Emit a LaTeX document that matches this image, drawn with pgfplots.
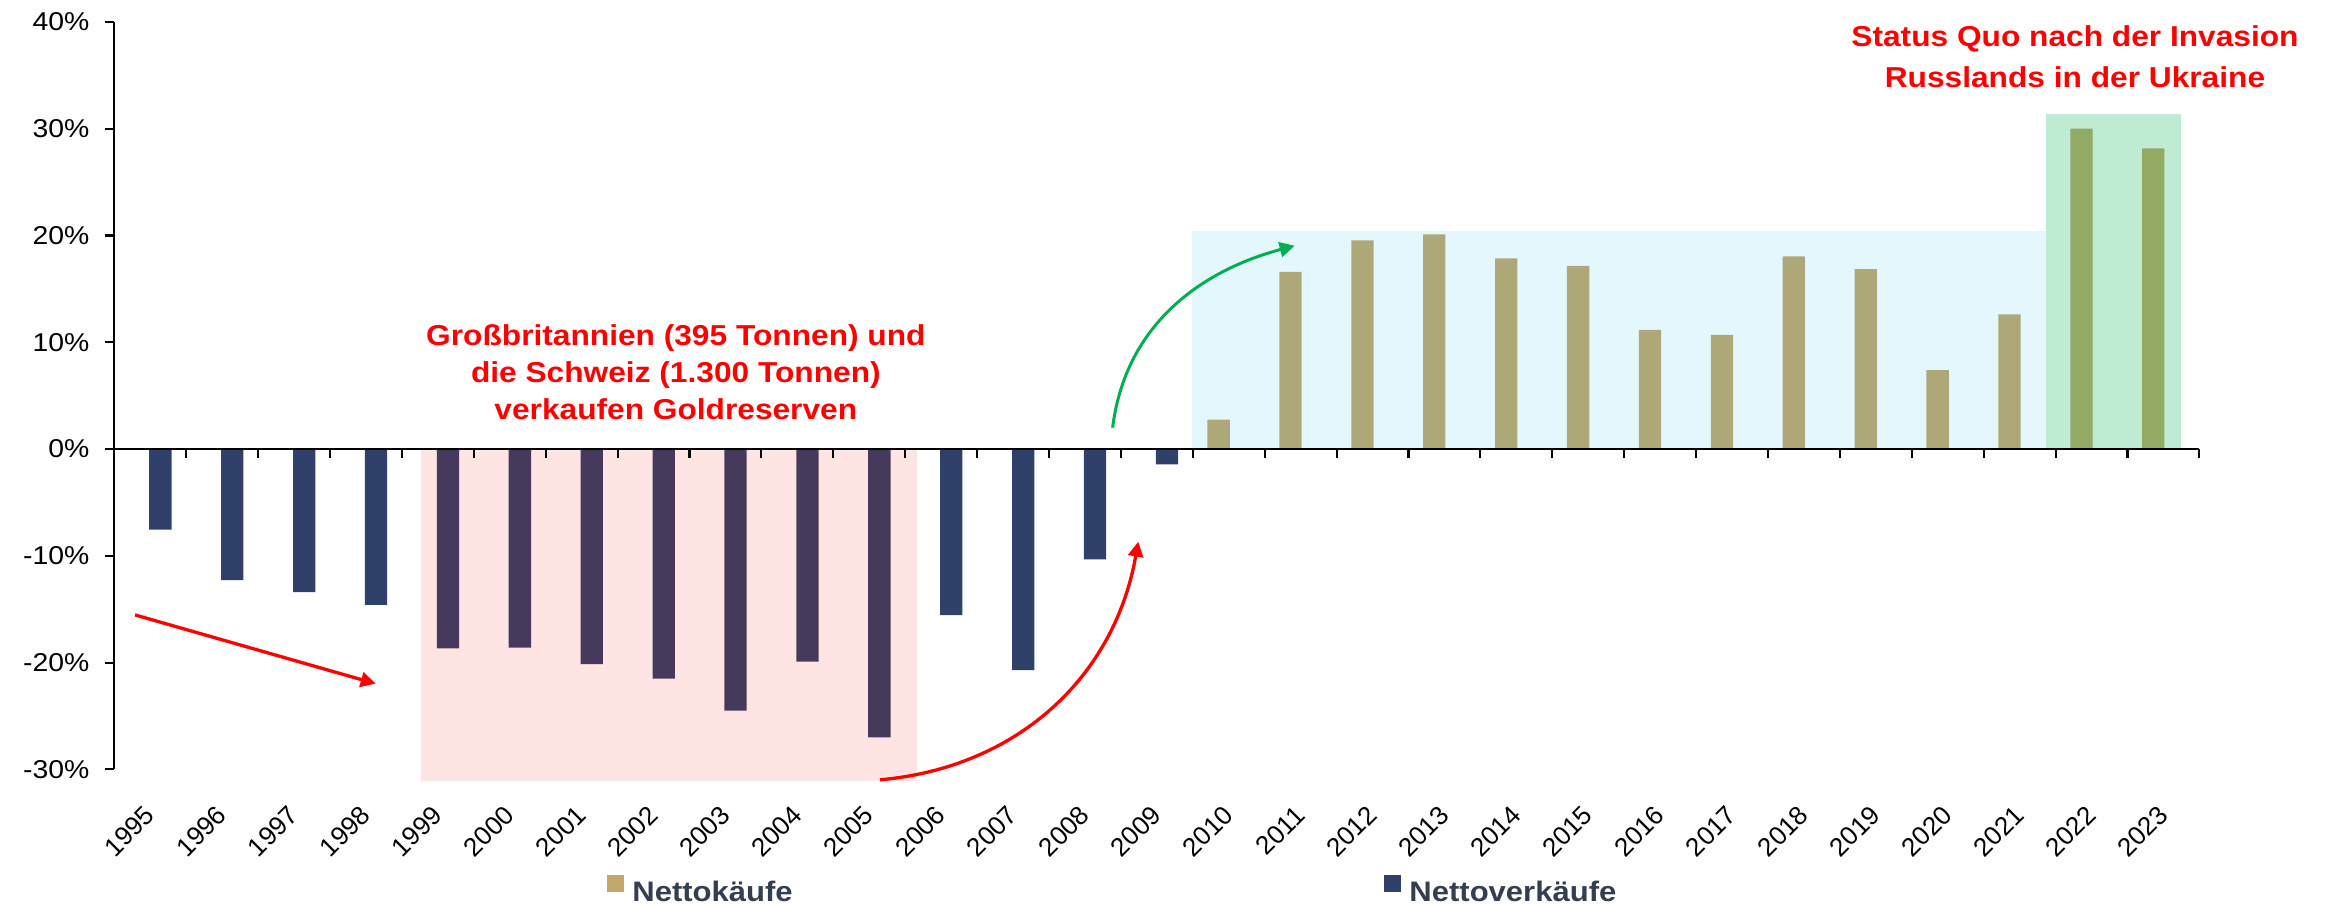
\documentclass[border=0pt]{standalone}
\usepackage{fontspec}
\setmainfont{Liberation Sans}[FakeStretch=1.1]
\newfontfamily\plainsans{Liberation Sans}
\usepackage{pgfplots}
\pgfplotsset{compat=1.18}
\usetikzlibrary{arrows.meta}

\definecolor{kauf}{HTML}{C3A86B}
\definecolor{verkauf}{HTML}{2F4168}
\definecolor{legtext}{HTML}{333F50}
\definecolor{xlgreen}{HTML}{00B050}
\definecolor{xlblue}{HTML}{00B0F0}

\begin{document}
\begin{tikzpicture}
\path[use as bounding box] (-38.1pt,-45.2pt) rectangle (738.87pt,256.47pt);
\begin{axis}[
    at={(0pt,0pt)}, anchor=south west,
    scale only axis, width=695pt, height=249.17pt,
    xmin=-0.5, xmax=28.5, ymin=-30, ymax=40,
    clip=false,
    ybar, bar width=7.43pt,
    axis y line*=left, axis x line*=bottom,
    x axis line style={draw=none},
    y axis line style={line width=0.7pt},
    xtick={0,...,28},
    xticklabels={1995,1996,1997,1998,1999,2000,2001,2002,2003,2004,2005,2006,2007,2008,2009,2010,2011,2012,2013,2014,2015,2016,2017,2018,2019,2020,2021,2022,2023},
    xtick style={draw=none},
    ytick={-30,-20,...,40},
    yticklabels={-30\%,-20\%,-10\%,0\%,10\%,20\%,30\%,40\%},
    ytick style={line width=0.7pt, black},
    tick align=outside, major tick length=3.1pt,
    yticklabel style={font=\fontsize{8.6}{10}\selectfont, inner sep=0pt, xshift=-5pt},
    xticklabel style={font=\plainsans\fontsize{8.7}{10}\selectfont, inner sep=0pt, xshift=0pt, yshift=-10.5pt, rotate=45, anchor=east},
    legend columns=2,
    legend style={draw=none, fill=none, inner sep=0pt, at={(0.2358,0)}, anchor=west, yshift=-40.5pt,
        font=\bfseries\fontsize{9.4}{11}\selectfont, text=legtext, nodes={inner sep=0pt},
        /tikz/every odd column/.append style={column sep=2.9pt},
        /tikz/every even column/.append style={column sep=197pt}},
]
\addplot[fill=kauf, draw=none, bar shift=-3.37pt,
    legend image code/.code={\fill[kauf] (0pt,0.55pt) rectangle (5.7pt,6.15pt);}]
    coordinates {(15,2.75) (16,16.6) (17,19.55) (18,20.1) (19,17.85) (20,17.15) (21,11.15)
                 (22,10.7) (23,18.05) (24,16.85) (25,7.4) (26,12.6) (27,30.0) (28,28.15)};
\addlegendentry{Nettokäufe}
\addplot[fill=verkauf, draw=none, bar shift=3.37pt,
    legend image code/.code={\fill[verkauf] (0pt,0.55pt) rectangle (5.7pt,6.15pt);}]
    coordinates {(0,-7.55) (1,-12.27) (2,-13.4) (3,-14.6) (4,-18.67) (5,-18.6) (6,-20.14)
                 (7,-21.5) (8,-24.5) (9,-19.9) (10,-27.0) (11,-15.54) (12,-20.7) (13,-10.33) (14,-1.44)};
\addlegendentry{Nettoverkäufe}

% highlighted periods
\fill[red, opacity=0.106] (axis cs:3.764,0) rectangle (axis cs:10.663,-31.1);
\fill[xlblue, opacity=0.106] (axis cs:14.486,0) rectangle (axis cs:26.364,20.42);
\fill[xlgreen, opacity=0.25] (axis cs:26.364,0) rectangle (axis cs:28.24,31.35);

% zero line with category ticks
\draw[line width=0.7pt] (axis cs:-0.5,0) -- (axis cs:28.5,0);
\pgfplotsinvokeforeach{0.5,1.5,...,28.5}{
    \draw[line width=0.7pt] (axis cs:#1,0) -- ++(0pt,-3.1pt);
}

% arrows
\draw[red, line width=1.1pt, -{Triangle[length=5pt,width=5pt]}]
    (axis cs:-0.212,-15.53) -- (axis cs:3.136,-21.97);
\draw[red, line width=1.1pt, -{Triangle[length=5pt,width=5pt]}]
    (axis cs:10.149,-30.97) to[out=5, in=-100] (axis cs:13.742,-8.67);
\draw[xlgreen, line width=1pt, -{Triangle[length=5pt,width=5pt]}]
    (axis cs:13.385,2.0) to[out=83, in=195] (axis cs:15.917,19.04);

% annotations
\node[text=red, font=\bfseries\fontsize{9.6}{12.4}\selectfont, align=center, inner sep=0pt]
    at (axis cs:7.31,7.17) {Großbritannien (395 Tonnen) und\\die Schweiz (1.300 Tonnen)\\verkaufen Goldreserven};
\node[text=red, font=\bfseries\fontsize{9.6}{13.7}\selectfont, align=center, inner sep=0pt]
    at (axis cs:26.77,36.77) {Status Quo nach der Invasion\\Russlands in der Ukraine};
\end{axis}
\end{tikzpicture}
\end{document}
